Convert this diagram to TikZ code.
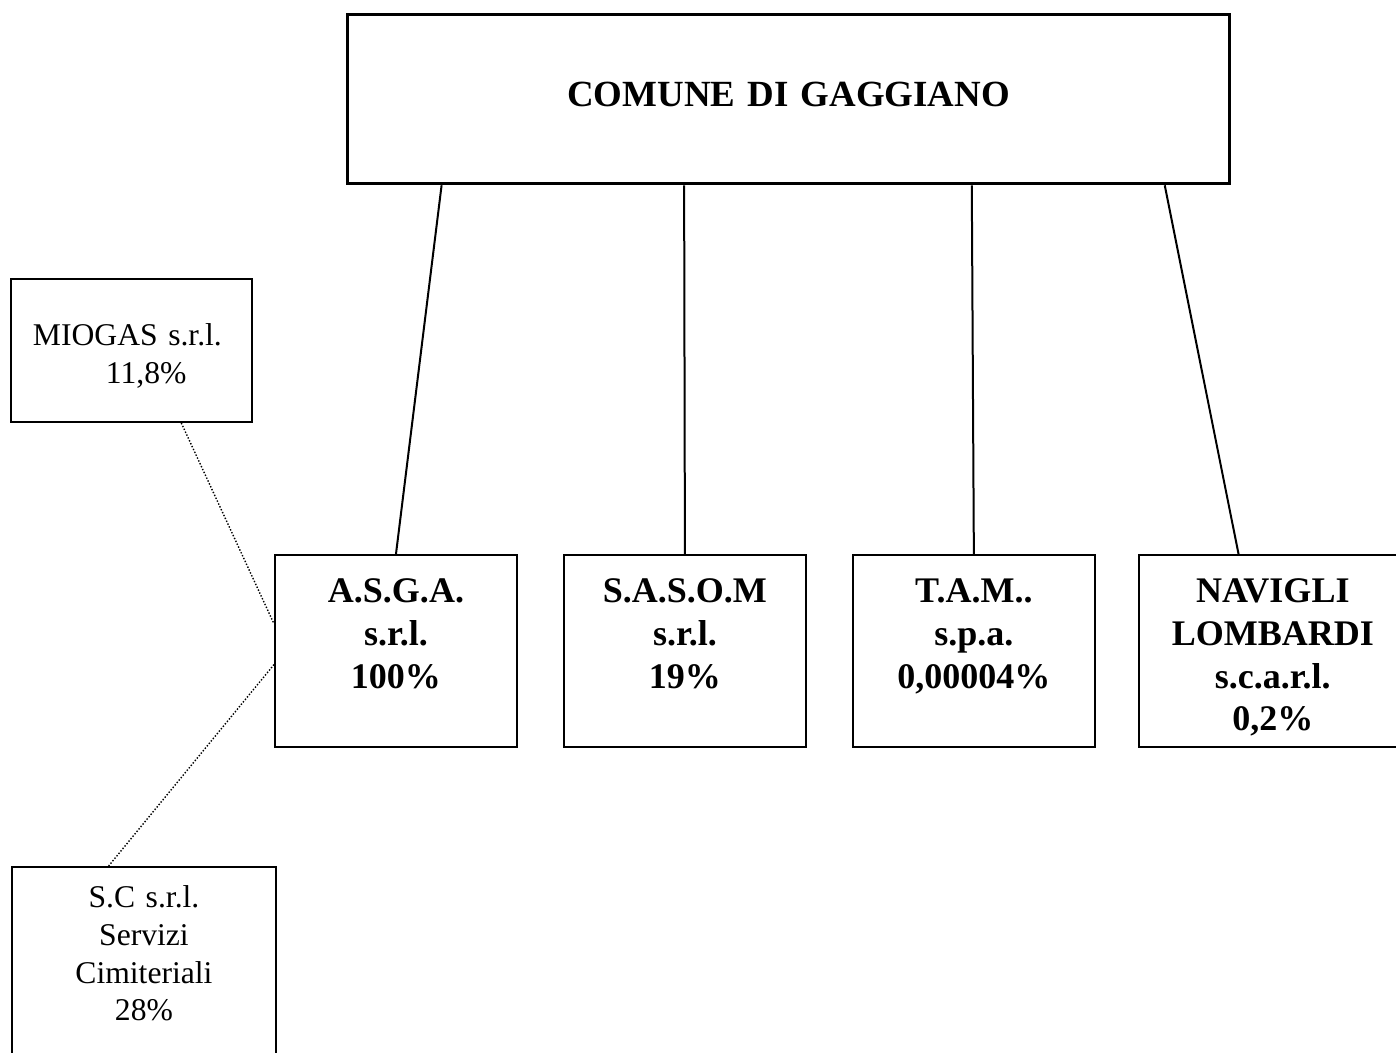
\documentclass[tikz,border=0pt]{standalone}
\usepackage{fontspec}
\setmainfont{Liberation Serif}
\usetikzlibrary{positioning,calc}

\begin{document}
\begin{tikzpicture}[x=0.02cm, y=-0.02cm, node distance=0.9cm,
    owner/.style = {draw, line width=0.066cm, inner sep=0pt, align=center, font=\fontsize{21}{25}\selectfont\bfseries},
    firm/.style = {draw, line width=0.04cm, inner sep=0pt, align=center, text width=4.84cm, text height=0.96cm, text depth=2.88cm, font=\fontsize{20.5}{24.2}\selectfont\bfseries},
    side/.style = {draw, line width=0.04cm, inner sep=0pt, font=\fontsize{18}{21.4}\selectfont},
    link/.style = {line width=0.04cm},
    share/.style = {line width=0.8pt, dash pattern=on 0.8pt off 1pt}]
    \useasboundingbox (0,0) rectangle (1396,1053);
    \clip (0,0) rectangle (1396,1053);

    \node[owner, anchor=north west, text width=17.64cm, text height=1.84cm, text depth=1.54cm] (CG) at (346,13) {COMUNE DI GAGGIANO};

    \node[firm, anchor=north west] (ASGA) at (274,554) {A.S.G.A.\\ s.r.l.\\ 100\%};
    \node[firm] (SASOM) [right=of ASGA] {S.A.S.O.M\\ s.r.l.\\ 19\%};
    \node[firm] (TAM) [right=of SASOM] {T.A.M..\\ s.p.a.\\ 0,00004\%};
    \node[firm, text width=5.36cm] (NAV) [right=0.84cm of TAM] {NAVIGLI\\ LOMBARDI\\ s.c.a.r.l.\\ 0,2\%};

    \node[side, anchor=north west, align=left, text width=4.82cm, text height=1.34cm, text depth=1.52cm] (MIO) at (10,278) {\hspace*{0.44cm}MIOGAS s.r.l.\\ \hspace*{1.9cm}11,8\%};
    \node[side, anchor=north west, align=center, text width=5.28cm, text height=0.82cm, text depth=5cm] (SC) at (11,866) {S.C s.r.l.\\ Servizi\\ Cimiteriali\\ 28\%};

    \draw[link] ($(CG.south west)!0.108!(CG.south east)$) -- (ASGA.north);
    \draw[link] ($(CG.south west)!0.382!(CG.south east)$) -- (SASOM.north);
    \draw[link] ($(CG.south west)!0.707!(CG.south east)$) -- (TAM.north);
    \draw[link] ($(CG.south west)!0.925!(CG.south east)$) -- ($(NAV.north west)!0.373!(NAV.north east)$);

    \draw[share] ($(MIO.south west)!0.705!(MIO.south east)$) -- ($(ASGA.north west)!0.36!(ASGA.south west)$);
    \draw[share] ($(ASGA.north west)!0.57!(ASGA.south west)$) -- ($(SC.north west)!0.367!(SC.north east)$);
\end{tikzpicture}
\end{document}
